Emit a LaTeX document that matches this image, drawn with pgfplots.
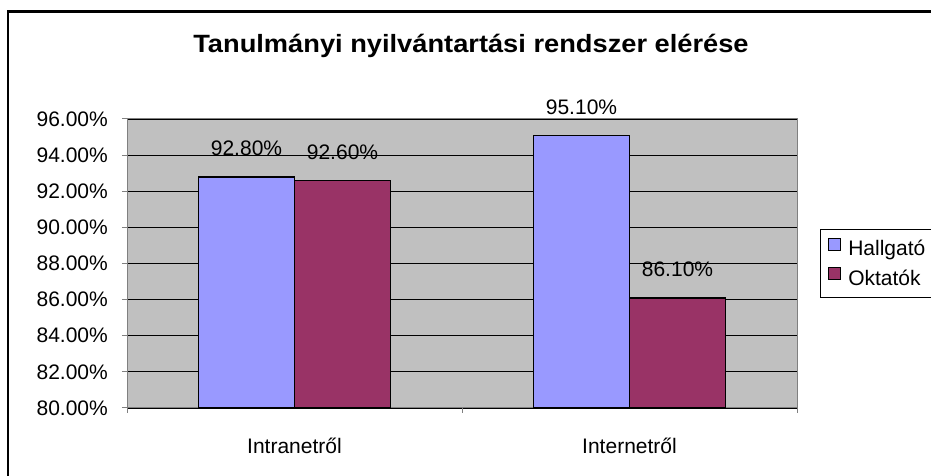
\documentclass[border=0pt]{standalone}
\usepackage{fontspec}
\setmainfont{Liberation Sans}
\usepackage{pgfplots}
\pgfplotsset{compat=1.18}

\definecolor{plotbg}{HTML}{C0C0C0}
\definecolor{axgray}{HTML}{808080}
\definecolor{hallgato}{HTML}{9999FF}
\definecolor{oktatok}{HTML}{993366}

\begin{document}
\begin{tikzpicture}[x=1pt,y=1pt]
\useasboundingbox (0,0) rectangle (931,476);
% outer chart frame (cut at right and bottom in the reference)
\draw[line width=2.5pt] (8,0) -- (8,464.5) -- (932,464.5);
\node[anchor=base, inner sep=0pt] at (471,423)
  {\scalebox{1.09}[1]{\fontsize{25}{30}\selectfont\bfseries Tanulmányi nyilvántartási rendszer elérése}};

\begin{axis}[
    at={(127pt,68pt)}, anchor=south west,
    scale only axis, width=670pt, height=289pt,
    /pgf/number format/assume math mode=true,
    font=\fontsize{21}{25}\selectfont,
    ybar=0pt, bar width=96pt,
    xmin=-0.5, xmax=1.5,
    ymin=80, ymax=96,
    ytick={80,82,...,96},
    yticklabel={\pgfmathprintnumber[fixed,fixed zerofill,precision=2]{\tick}\%},
    xtick={-0.5,0.5,1.5},
    xticklabels={Intranetről,Internetről},
    x tick label as interval,
    tick align=outside, major tick length=5pt,
    xtick pos=bottom, ytick pos=left,
    tick style={draw=axgray, line width=1pt},
    axis line style={draw=axgray, line width=1pt},
    axis background/.style={fill=plotbg},
    ymajorgrids, major grid style={black, line width=0.8pt},
    yticklabel style={inner sep=0pt, xshift=-14pt},
    xticklabel style={inner sep=0pt, anchor=base, yshift=-40pt},
    nodes near coords={\pgfmathprintnumber[fixed,fixed zerofill,precision=2]{\pgfplotspointmeta}\%},
    nodes near coords style={anchor=base, inner sep=0pt, yshift=21pt, text=black},
    every node near coord/.append style={font=\fontsize{21}{25}\selectfont},
    legend style={at={(axis description cs:1,0.5)}, anchor=west, xshift=23pt,
      draw=black, line width=0.8pt, fill=white,
      font=\fontsize{21}{25}\selectfont,
      inner xsep=8pt, inner ysep=8pt, row sep=8pt, column sep=5pt},
    legend cell align=left,
    legend image code/.code={\draw[#1, draw=black, line width=0.9pt] (0pt,-1pt) rectangle (12pt,11pt);},
]
\addplot[fill=hallgato, draw=black, line width=1.5pt] coordinates {(0,92.8) (1,95.1)};
\addplot[fill=oktatok, draw=black, line width=1.5pt] coordinates {(0,92.6) (1,86.1)};
\legend{Hallgató,Oktatók}
\end{axis}
\end{tikzpicture}
\end{document}
